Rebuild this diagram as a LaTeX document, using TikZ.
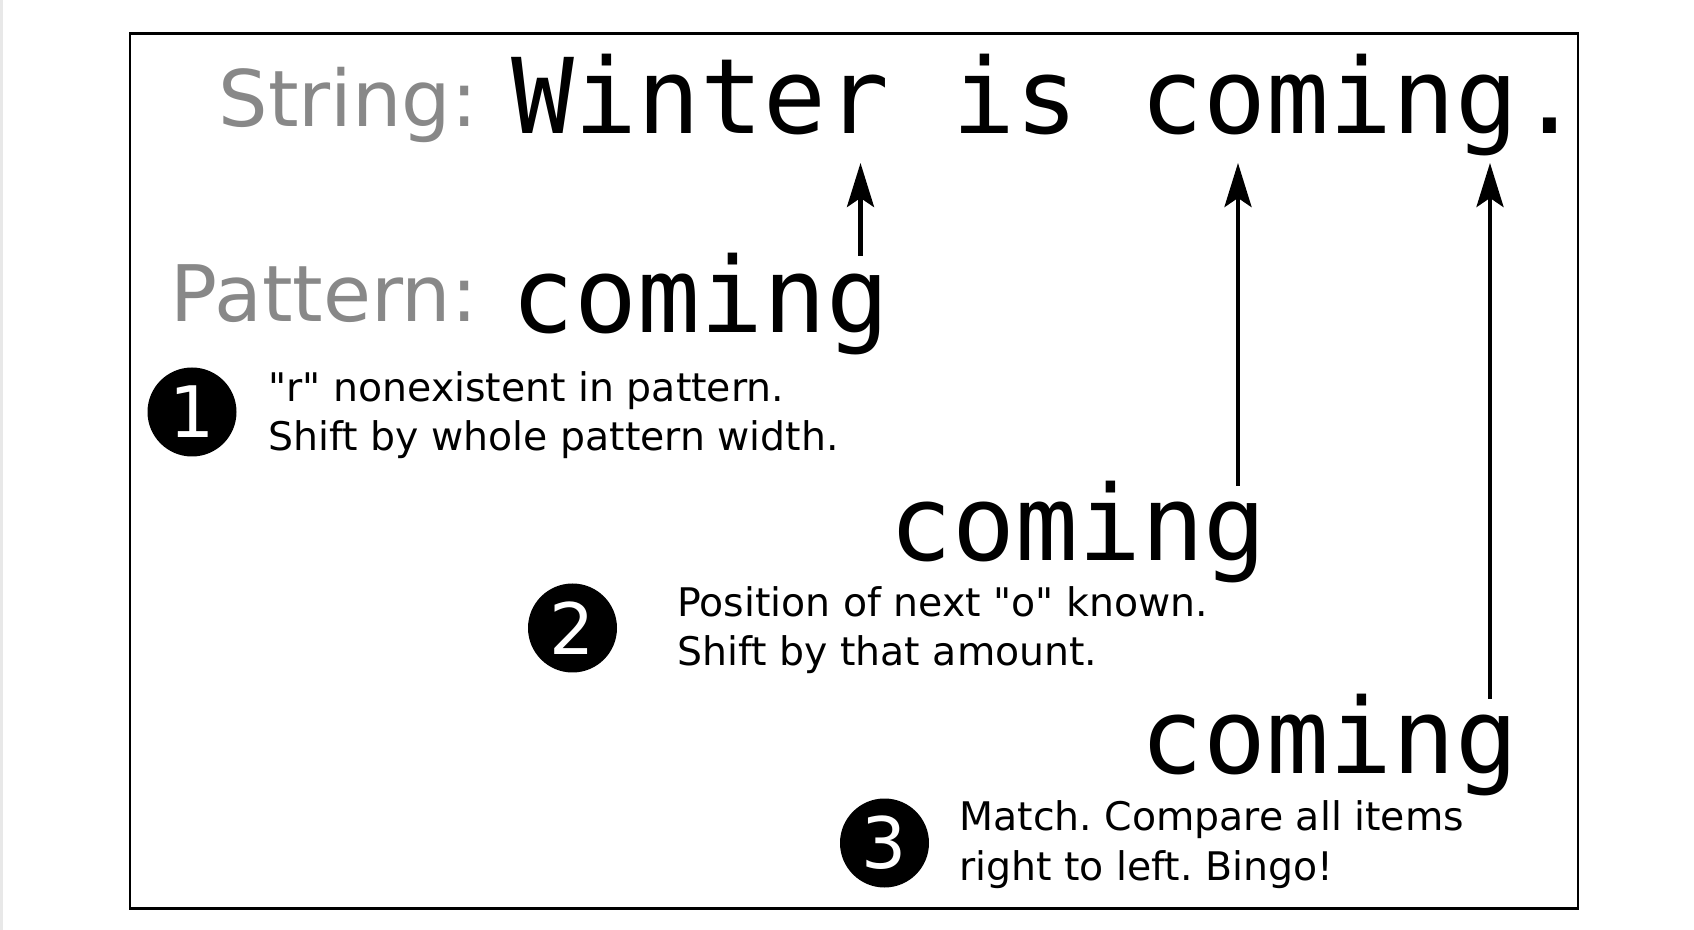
\documentclass[tikz,border=0pt]{standalone}
\usepackage{fontspec}
\setmainfont{DejaVu Sans}[Ligatures=TeXOff]
\newfontfamily\monofont{DejaVu Sans Mono}
\usetikzlibrary{arrows.meta}
\definecolor{labelgray}{HTML}{888888}
\frenchspacing

\begin{document}
\begin{tikzpicture}[x=0.5pt,y=-0.5pt,
    headword/.style={anchor=base east,inner sep=0pt,text=labelgray,font=\fontsize{39}{46}\selectfont},
    mono/.style={anchor=base west,inner sep=0pt,font=\monofont\fontsize{52.25}{60}\selectfont},
    num/.style={circle,fill=black,text=white,minimum size=44.5pt,inner sep=0pt,font=\fontsize{35.5}{40}\selectfont},
    expl/.style={anchor=base west,align=left,inner sep=0pt,font=\fontsize{19.7}{24.6}\selectfont},
    arr/.style={line width=2.2pt,-{Stealth[length=22pt,width=13.5pt,inset=4.5pt]}}]

    \useasboundingbox (0,0) rectangle (1694,930);
    \fill[gray!18] (0,0) rectangle (3,930);
    \draw[line width=1.25pt] (130,33.5) rectangle (1578,908.5);

    % labels and text
    \node[headword] (strlab) at (478,127) {String:};
    \node[headword] (patlab) at (478,322) {Pattern:};
    \node[mono] (str) at (511.5,134) {Winter is coming.};

    % pattern positions
    \node[mono] (p1) at (511.5,333) {coming};
    \node[mono] (p2) at (889,561) {coming};
    \node[mono] (p3) at (1140.5,774) {coming};

    % steps (base = last line)
    \node[num] (n1) at (192,412) {1};
    \node[expl] (e1) at (268,451) {"r" nonexistent in pattern.\\Shift by whole pattern width.};
    \node[num] (n2) at (572.5,628) {2};
    \node[expl] (e2) at (677,666) {Position of next "o" known.\\Shift by that amount.};
    \node[num] (n3) at (884.5,843) {3};
    \node[expl] (e3) at (959,880) {Match. Compare all items\\right to left. Bingo!};

    % compared characters
    \coordinate (a1) at (860.5,256);
    \coordinate (h1) at (860.5,163);
    \coordinate (a2) at (1238,486);
    \coordinate (h2) at (1238,163);
    \coordinate (a3) at (1490,699);
    \coordinate (h3) at (1490,163);
    \draw[arr] (a1) -- (h1);
    \draw[arr] (a2) -- (h2);
    \draw[arr] (a3) -- (h3);
\end{tikzpicture}
\end{document}
